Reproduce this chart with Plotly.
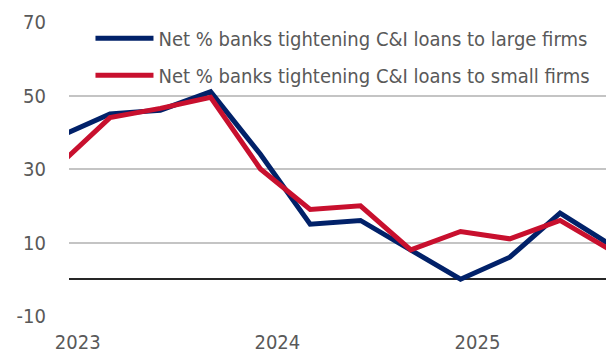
import plotly.graph_objects as go

dates = ["2022-12-01", "2023-03-01", "2023-06-01", "2023-09-01", "2023-12-01",
         "2024-03-01", "2024-06-01", "2024-09-01", "2024-12-01", "2025-03-01",
         "2025-06-01", "2025-09-01"]
large_firms = [39, 45, 46, 51, 34, 15, 16, 8, 0, 6, 18, 9.4]
small_firms = [31.5, 44, 46.5, 49.5, 30, 19, 20, 8, 13, 11, 16, 8]
year_ticks = ["2023-01-01", "2024-01-01", "2025-01-01"]
year_labels = ["2023", "2024", "2025"]
y_ticks = [-10, 10, 30, 50, 70]
y_labels = ["-10", "10", "30", "50", "70"]

FONT = "DejaVu Sans Condensed, Roboto, sans-serif"
GRAY = "#595959"

fig = go.Figure()
fig.add_trace(go.Scatter(x=dates, y=large_firms, mode="lines",
                         name="Net % banks tightening C&I loans to large firms",
                         line=dict(color="#012169", width=5), legendgroup="a"))
fig.add_trace(go.Scatter(x=dates, y=small_firms, mode="lines",
                         name="Net % banks tightening C&I loans to small firms",
                         line=dict(color="#C8102E", width=5), legendgroup="b"))

fig.update_layout(
    width=606, height=356,
    margin=dict(l=69, r=0, t=22, b=40, autoexpand=False),
    paper_bgcolor="white", plot_bgcolor="white",
    font=dict(family=FONT, size=20, color=GRAY),
    showlegend=True,
    legend=dict(x=0.040, y=1.011, xanchor="left", yanchor="top",
                bgcolor="rgba(0,0,0,0)", itemwidth=58, tracegroupgap=8,
                font=dict(family=FONT, size=20, color=GRAY)),
    xaxis=dict(type="date", range=["2022-12-16", "2025-08-24"],
               tickvals=year_ticks, ticktext=year_labels,
               showgrid=False, zeroline=False, showline=False, ticks="",
               ticklabelstandoff=12),
    yaxis=dict(range=[-10, 70], tickvals=y_ticks, ticktext=y_labels,
               showgrid=True, gridcolor="#c4c4c4", gridwidth=2,
               zeroline=True, zerolinecolor="#262626", zerolinewidth=2,
               showline=False, ticks="", ticklabelstandoff=22),
)

fig.write_html("out.html")
